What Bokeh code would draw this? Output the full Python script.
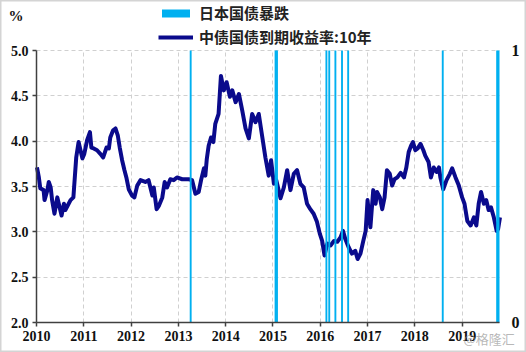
from bokeh.plotting import figure
from bokeh.models import (Range1d, LinearAxis, FixedTicker, Legend, LegendItem,
                          Label, NumeralTickFormatter, BoxAnnotation)
from bokeh.embed import file_html
from bokeh.resources import INLINE

# ---- data (decimal years) ----
dates = [2010.01, 2010.05, 2010.08, 2010.15, 2010.17, 2010.23, 2010.26, 2010.30, 2010.33, 2010.38,
         2010.44, 2010.48, 2010.53, 2010.58, 2010.61, 2010.66, 2010.72, 2010.78, 2010.81, 2010.84,
         2010.89, 2010.93, 2010.97, 2011.01, 2011.07, 2011.13, 2011.16, 2011.21, 2011.28, 2011.35,
         2011.41, 2011.48, 2011.53, 2011.56, 2011.62, 2011.67, 2011.72, 2011.76, 2011.81, 2011.86,
         2011.90, 2011.95, 2012.02, 2012.07, 2012.13, 2012.20, 2012.30, 2012.37, 2012.45, 2012.48,
         2012.54, 2012.59, 2012.66, 2012.71, 2012.76, 2012.83, 2012.90, 2012.97, 2013.08, 2013.22,
         2013.29, 2013.36, 2013.43, 2013.48, 2013.54, 2013.57, 2013.60, 2013.64, 2013.69, 2013.74,
         2013.78, 2013.85, 2013.90, 2013.96, 2014.02, 2014.09, 2014.14, 2014.21, 2014.28, 2014.35,
         2014.42, 2014.49, 2014.56, 2014.63, 2014.70, 2014.77, 2014.84, 2014.91, 2014.96, 2015.02,
         2015.07, 2015.16, 2015.23, 2015.30, 2015.37, 2015.44, 2015.51, 2015.58, 2015.65, 2015.72,
         2015.79, 2015.86, 2015.93, 2015.99, 2016.04, 2016.09, 2016.15, 2016.22, 2016.29, 2016.36,
         2016.43, 2016.48, 2016.53, 2016.60, 2016.67, 2016.74, 2016.79, 2016.85, 2016.91, 2016.96,
         2017.00, 2017.06, 2017.12, 2017.17, 2017.20, 2017.26, 2017.31, 2017.36, 2017.41, 2017.47,
         2017.52, 2017.57, 2017.63, 2017.70, 2017.77, 2017.82, 2017.87, 2017.92, 2017.96, 2018.01,
         2018.06, 2018.12, 2018.18, 2018.22, 2018.29, 2018.34, 2018.40, 2018.46, 2018.51, 2018.54,
         2018.60, 2018.67, 2018.74, 2018.79, 2018.86, 2018.93, 2019.00, 2019.05, 2019.11, 2019.18,
         2019.25, 2019.30, 2019.35, 2019.40, 2019.46, 2019.51, 2019.56, 2019.61, 2019.67, 2019.73,
         2019.76, 2019.80]
yields = [3.71, 3.60, 3.48, 3.46, 3.35, 3.46, 3.55, 3.49, 3.35, 3.20,
          3.38, 3.29, 3.18, 3.31, 3.24, 3.29, 3.35, 3.38, 3.60, 3.82,
          3.99, 3.90, 3.81, 3.86, 4.01, 4.10, 3.93, 3.92, 3.90, 3.86,
          3.82, 3.93, 3.92, 4.04, 4.12, 4.14, 4.06, 3.93, 3.79, 3.68,
          3.60, 3.47, 3.40, 3.38, 3.51, 3.57, 3.55, 3.57, 3.40, 3.49,
          3.25, 3.29, 3.38, 3.55, 3.49, 3.58, 3.57, 3.60, 3.58, 3.58,
          3.57, 3.42, 3.44, 3.57, 3.70, 3.62, 3.80, 3.95, 4.04, 3.99,
          4.19, 4.30, 4.72, 4.56, 4.65, 4.49, 4.56, 4.43, 4.52, 4.34,
          4.14, 4.03, 4.30, 4.21, 4.30, 4.06, 3.82, 3.62, 3.79, 3.53,
          3.57, 3.37, 3.49, 3.68, 3.46, 3.64, 3.68, 3.53, 3.49, 3.31,
          3.25, 3.20, 3.11, 2.98, 2.90, 2.74, 2.87, 2.85, 2.90, 2.89,
          2.94, 3.01, 2.92, 2.83, 2.76, 2.79, 2.70, 2.76, 2.90, 3.01,
          3.35, 3.05, 3.46, 3.31, 3.44, 3.38, 3.25, 3.38, 3.68, 3.64,
          3.51, 3.58, 3.60, 3.65, 3.60, 3.71, 3.88, 3.95, 3.99, 3.90,
          3.92, 3.97, 3.90, 3.84, 3.77, 3.60, 3.71, 3.66, 3.71, 3.60,
          3.47, 3.57, 3.64, 3.70, 3.60, 3.51, 3.38, 3.31, 3.12, 3.07,
          3.16, 3.07, 3.31, 3.44, 3.31, 3.35, 3.24, 3.27, 3.16, 3.01,
          3.03, 3.16]
crash_dates = [2013.26, 2015.055, 2015.085, 2016.13, 2016.19, 2016.32, 2016.46, 2016.59,
               2018.59, 2019.74, 2019.77]
crash_flag = [1] * len(crash_dates)
year_ticks = [2010, 2011, 2012, 2013, 2014, 2015, 2016, 2017, 2018, 2019]
year_labels = ["2010", "2011", "2012", "2013", "2014", "2015", "2016", "2017", "2018", "2019"]
y_ticks = [2.0, 2.5, 3.0, 3.5, 4.0, 4.5, 5.0]

# ---- layout constants (pixels) ----
W, H = 526, 352
PX_L, PX_R, PX_T, PX_B = 36, 499, 50, 322     # data area edges on the canvas
X0, X1 = 2010.0, 2019.79
Y0, Y1 = 2.0, 5.0
xs = (PX_R - PX_L) / (X1 - X0)
ys = (PX_B - PX_T) / (Y1 - Y0)
xr = Range1d(X0 - PX_L / xs, X1 + (W - PX_R) / xs)
yr = Range1d(Y0 - (H - PX_B) / ys, Y1 + PX_T / ys)
fr0 = (yr.start - Y0) / (Y1 - Y0)
fr1 = (yr.end - Y0) / (Y1 - Y0)

SERIF = "Liberation Serif"
CJK = "Noto Sans CJK SC"
NAVY = "#0A0A8C"
CYAN = "#00B0F0"

p = figure(width=W, height=H, output_backend="svg", toolbar_location=None,
           x_range=xr, y_range=yr, min_border=0,
           min_border_left=0, min_border_right=0, min_border_top=0, min_border_bottom=0)
p.outline_line_color = "#D4D4D4"
p.outline_line_width = 2
p.background_fill_color = "white"
p.border_fill_color = "white"
p.extra_y_ranges = {"flag": Range1d(fr0, fr1)}

# grid
for g in (p.xgrid, p.ygrid):
    g.grid_line_color = "#D0D0D0"
    g.grid_line_dash = "4 3"
    g.grid_line_width = 1
p.xgrid.ticker = FixedTicker(ticks=year_ticks)
p.ygrid.ticker = FixedTicker(ticks=y_ticks)
try:
    p.xgrid.cross_bounds = (Y0, Y1)
    p.ygrid.cross_bounds = (X0, X1)
except Exception:
    for kw in (dict(bottom=Y1 + 0.004), dict(top=Y0 - 0.004),
               dict(left=X1 + 0.01), dict(right=X0 - 0.01)):
        p.add_layout(BoxAnnotation(fill_color="white", fill_alpha=1, line_color=None,
                                   level="glyph", **kw))

# axes
xa = p.xaxis[0]
xa.ticker = FixedTicker(ticks=year_ticks)
xa.major_label_overrides = dict(zip(year_ticks, year_labels))
xa.fixed_location = Y0
xa.bounds = (X0, X1)
ya = p.yaxis[0]
ya.ticker = FixedTicker(ticks=y_ticks)
ya.formatter = NumeralTickFormatter(format="0.0")
ya.fixed_location = X0
ya.bounds = (Y0, Y1)
for ax in (xa, ya):
    ax.axis_line_color = "#404040"
    ax.axis_line_width = 1.5
    ax.major_tick_line_color = "#404040"
    ax.major_tick_line_width = 1.5
    ax.major_tick_in = 0
    ax.major_tick_out = 4
    ax.minor_tick_line_color = None
    ax.major_label_text_font = SERIF
    ax.major_label_text_font_style = "bold"
    ax.major_label_text_font_size = "14px"
    ax.major_label_text_color = "#111111"
xa.major_label_standoff = 4
ya.major_label_standoff = 4

ra = LinearAxis(y_range_name="flag", ticker=FixedTicker(ticks=[0, 1]))
ra.fixed_location = X1
ra.bounds = (0, 1)
ra.axis_line_color = None
ra.major_tick_line_color = None
ra.minor_tick_line_color = None
ra.major_label_standoff = 6
ra.major_label_text_font = SERIF
ra.major_label_text_font_style = "bold"
ra.major_label_text_font_size = "16px"
ra.major_label_text_color = "#111111"
p.add_layout(ra, "right")

# series
line_r = p.line(dates, yields, line_color=NAVY, line_width=4, line_join="round")
bar_r = p.vbar(x=crash_dates, top=crash_flag, bottom=0, width=0.04,
               fill_color=CYAN, line_color=None, y_range_name="flag")

legend = Legend(items=[LegendItem(label="日本国债暴跌", renderers=[bar_r]),
                       LegendItem(label="中债国债到期收益率:10年", renderers=[line_r])],
                location=(158, H - 47), orientation="vertical",
                glyph_width=35, glyph_height=10, label_standoff=6, spacing=3,
                padding=0, margin=0, border_line_color=None, background_fill_alpha=0,
                label_text_font=CJK, label_text_font_style="bold",
                label_text_font_size="15px", label_text_color="#222222",
                label_height=20)
p.add_layout(legend, "center")

p.add_layout(Label(x=8, y=H - 15, x_units="screen", y_units="screen", text="%",
                   text_font=SERIF, text_font_style="bold", text_font_size="15px",
                   text_color="#111111", text_baseline="middle"))
p.add_layout(Label(x=463, y=14, x_units="screen", y_units="screen", text="@格隆汇",
                   text_font=CJK, text_font_size="13px", text_color="#999999",
                   text_alpha=0.7, text_baseline="middle"))

open("out.html", "w").write(file_html(p, INLINE))
